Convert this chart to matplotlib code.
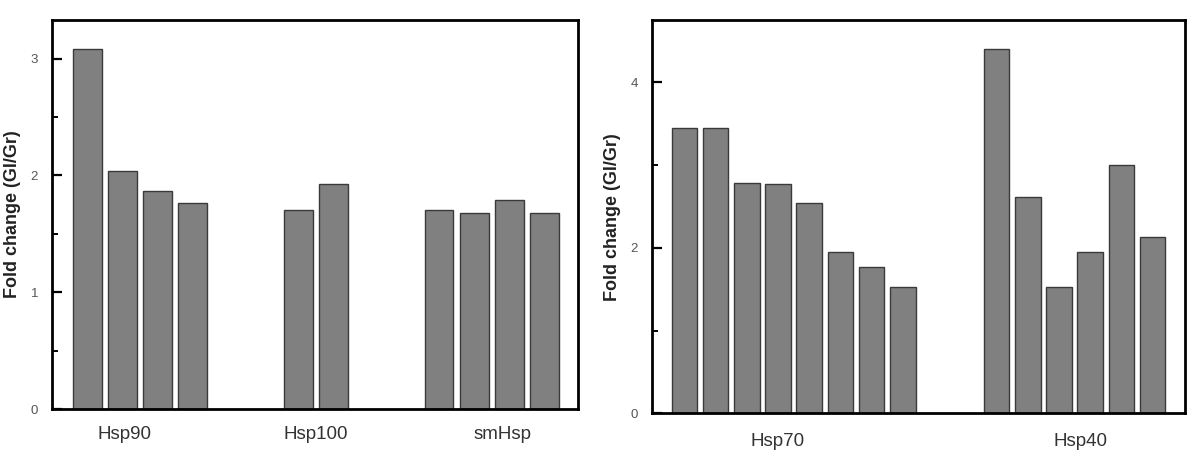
#!/usr/bin/env python3
# Fold change of heat shock protein genes (Gl/Gr), two panels
import numpy as np
import matplotlib
matplotlib.use("Agg")
from matplotlib import pyplot as plt
from matplotlib.ticker import MultipleLocator
import matplotlib.transforms as mtransforms

plt.rcParams['font.family'] = ['Liberation Sans', 'DejaVu Sans']

##################---------Data---------########################################
left_groups = ['Hsp90', 'Hsp100', 'smHsp']
left_values = [[3.08, 2.04, 1.87, 1.76],
               [1.70, 1.93],
               [1.70, 1.68, 1.79, 1.68]]
left_label_pos = [1.05, 6.5, 11.8]

right_groups = ['Hsp70', 'Hsp40']
right_values = [[3.45, 3.45, 2.78, 2.77, 2.54, 1.95, 1.77, 1.52],
                [4.40, 2.61, 1.52, 1.95, 3.00, 2.13]]
right_label_pos = [3.0, 12.7]

BAR_COLOR = '#808080'
EDGE_COLOR = '#3a3a3a'
GAP = 2  # empty slots between groups


def draw_panel(ax, groups, values, label_pos, ylim, major, minor, xlim, label_y):
    x = 0
    for vals in values:
        pos = np.arange(len(vals)) + x
        ax.bar(pos, vals, width=0.82, color=BAR_COLOR,
               edgecolor=EDGE_COLOR, linewidth=1.0)
        x = pos[-1] + 1 + GAP
    ax.set_xlim(*xlim)
    ax.set_ylim(*ylim)
    ax.set_xticks([])
    ax.yaxis.set_major_locator(MultipleLocator(major))
    ax.yaxis.set_minor_locator(MultipleLocator(minor))
    ax.tick_params(axis='y', which='major', direction='in', length=7,
                   width=1.6, labelsize=9.5, labelcolor='#555555', pad=10)
    ax.tick_params(axis='y', which='minor', direction='in', length=4,
                   width=1.4)
    for sp in ax.spines.values():
        sp.set_linewidth(2.0)
        sp.set_color('black')
    ax.set_ylabel('Fold change (Gl/Gr)', fontsize=13, fontweight='bold',
                  color='#222222', labelpad=7)
    trans = mtransforms.blended_transform_factory(ax.transData, ax.transAxes)
    for name, p in zip(groups, label_pos):
        ax.text(p, label_y, name, transform=trans, ha='center', va='center',
                fontsize=13.5, color='#333333')


fig = plt.figure(figsize=(12, 4.62), dpi=100)
ax1 = fig.add_axes([0.0433, 0.1147, 0.4384, 0.8420])
ax2 = fig.add_axes([0.5433, 0.1054, 0.4442, 0.8512])

draw_panel(ax1, left_groups, left_values, left_label_pos,
           (0, 3.33), 1, 0.5, (-1.0, 13.95), -0.065)
draw_panel(ax2, right_groups, right_values, right_label_pos,
           (0, 4.75), 2, 1, (-1.04, 16.04), -0.072)

fig.savefig('out.png', dpi=100)
